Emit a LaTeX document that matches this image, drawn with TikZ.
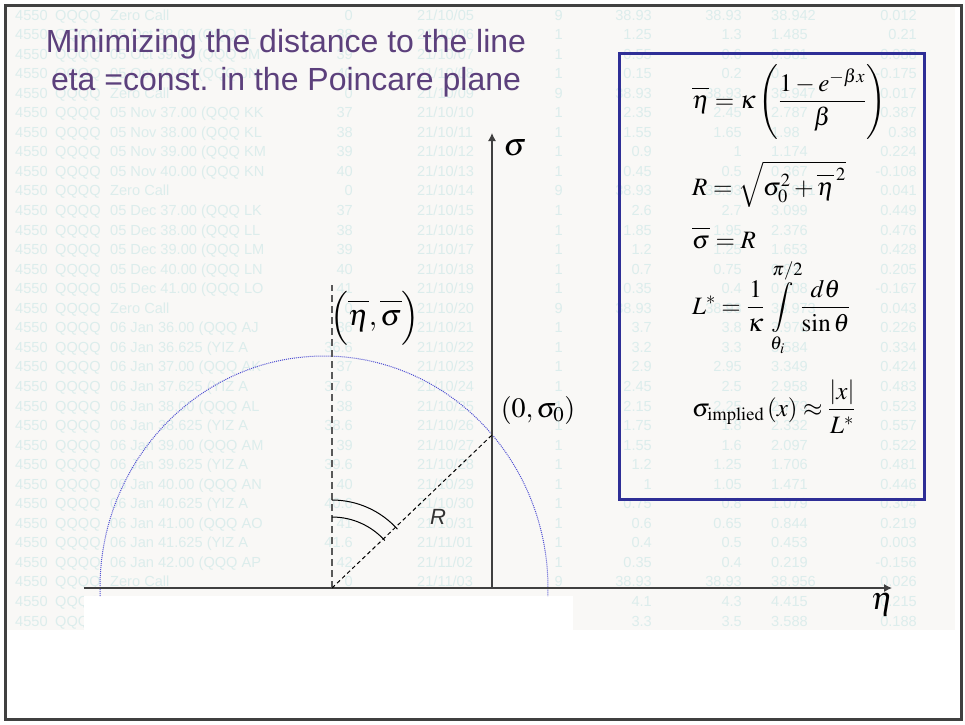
\documentclass[tikz,border=0pt]{standalone}
\usepackage{amsmath}
\usepackage{mathptmx}
\usepackage[no-math]{fontspec}
\setmainfont{Liberation Serif}
\newfontfamily\arialfont{Liberation Sans}
\usetikzlibrary{arrows.meta}

\definecolor{slidegray}{RGB}{249,248,246}
\definecolor{tabcol}{RGB}{220,237,236}
\definecolor{titlecol}{RGB}{92,64,124}
\definecolor{boxblue}{RGB}{46,46,150}
\definecolor{circblue}{RGB}{80,80,210}
\definecolor{axisgray}{RGB}{64,64,64}

\tikzset{
  tabtxt/.style={font=\arialfont\fontsize{14.6}{16}\selectfont, text=tabcol, inner sep=0pt},
  formula/.style={font=\fontsize{25}{30}\selectfont, inner sep=0pt, anchor=base west},
}
\newcommand{\obar}[1]{\overline{\vphantom{T}#1}}

\begin{document}
\begin{tikzpicture}[x=1pt,y=-1pt,>={Latex[length=8pt,width=8pt]}]
  \useasboundingbox (0,0) rectangle (965,724);
  % --- slide background
  \fill[white] (0,0) rectangle (965,724);
  \fill[slidegray] (7,7) rectangle (955,630);
  % --- faded spreadsheet behind the slide
  \foreach \ds/\kk/\mo/\dy/\nn/\va/\vb/\vc/\vd [count=\i] in {
    Zero Call/0/10/05/9/38.93/38.93/38.942/0.012,
    05 Oct 38.00 (QQQ JL/38/10/06/1/1.25/1.3/1.485/0.21,
    05 Oct 39.00 (QQQ JM/39/10/07/1/0.55/0.6/0.581/0.088,
    05 Oct 40.00 (QQQ JN/40/10/08/1/0.15/0.2/0/-0.175,
    Zero Call/0/10/09/9/38.93/38.93/38.947/0.017,
    05 Nov 37.00 (QQQ KK/37/10/10/1/2.35/2.45/2.787/0.387,
    05 Nov 38.00 (QQQ KL/38/10/11/1/1.55/1.65/1.98/0.38,
    05 Nov 39.00 (QQQ KM/39/10/12/1/0.9/1/1.174/0.224,
    05 Nov 40.00 (QQQ KN/40/10/13/1/0.45/0.5/0.367/-0.108,
    Zero Call/0/10/14/9/38.93/38.93/38.971/0.041,
    05 Dec 37.00 (QQQ LK/37/10/15/1/2.6/2.7/3.099/0.449,
    05 Dec 38.00 (QQQ LL/38/10/16/1/1.85/1.95/2.376/0.476,
    05 Dec 39.00 (QQQ LM/39/10/17/1/1.2/1.25/1.653/0.428,
    05 Dec 40.00 (QQQ LN/40/10/18/1/0.7/0.75/0.93/0.205,
    05 Dec 41.00 (QQQ LO/41/10/19/1/0.35/0.4/0.208/-0.167,
    Zero Call/0/10/20/9/38.93/38.93/38.973/0.043,
    06 Jan 36.00 (QQQ AJ/36/10/21/1/3.7/3.8/3.976/0.226,
    06 Jan 36.625 (YIZ A/36.6/10/22/1/3.2/3.3/3.584/0.334,
    06 Jan 37.00 (QQQ AK/37/10/23/1/2.9/2.95/3.349/0.424,
    06 Jan 37.625 (YIZ A/37.6/10/24/1/2.45/2.5/2.958/0.483,
    06 Jan 38.00 (QQQ AL/38/10/25/1/2.15/2.25/2.773/0.523,
    06 Jan 38.625 (YIZ A/38.6/10/26/1/1.75/1.8/2.332/0.557,
    06 Jan 39.00 (QQQ AM/39/10/27/1/1.55/1.6/2.097/0.522,
    06 Jan 39.625 (YIZ A/39.6/10/28/1/1.2/1.25/1.706/0.481,
    06 Jan 40.00 (QQQ AN/40/10/29/1/1/1.05/1.471/0.446,
    06 Jan 40.625 (YIZ A/40.6/10/30/1/0.75/0.8/1.079/0.304,
    06 Jan 41.00 (QQQ AO/41/10/31/1/0.6/0.65/0.844/0.219,
    06 Jan 41.625 (YIZ A/41.6/11/01/1/0.4/0.5/0.453/0.003,
    06 Jan 42.00 (QQQ AP/42/11/02/1/0.35/0.4/0.219/-0.156,
    Zero Call/0/11/03/9/38.93/38.93/38.956/0.026}{
    \pgfmathsetmacro\yy{20+(\i-1)*19.55}
    \node[tabtxt,anchor=base west] (id\i) at (15,\yy) {4550};
    \node[tabtxt,anchor=base west] (tk\i) at (55,\yy) {QQQQ};
    \node[tabtxt,anchor=base west] (ds\i) at (110,\yy) {\ds};
    \node[tabtxt,anchor=base east] (kk\i) at (353,\yy) {\kk};
    \node[tabtxt,anchor=base west] (dt\i) at (417,\yy) {21/\mo/\dy};
    \node[tabtxt,anchor=base east] (nn\i) at (563,\yy) {\nn};
    \node[tabtxt,anchor=base east] (va\i) at (652,\yy) {\va};
    \node[tabtxt,anchor=base east] (vb\i) at (742,\yy) {\vb};
    \node[tabtxt,anchor=base west] (vc\i) at (771,\yy) {\vc};
    \node[tabtxt,anchor=base east] (vd\i) at (917,\yy) {\vd};
  }
  \foreach \va/\vb/\vc/\vd [count=\i from 31] in {4.1/4.3/4.415/0.215, 3.3/3.5/3.588/0.188}{
    \pgfmathsetmacro\yy{20+(\i-1)*19.55}
    \node[tabtxt,anchor=base west] (id\i) at (15,\yy) {4550};
    \node[tabtxt,anchor=base west] (tk\i) at (55,\yy) {QQQQ};
    \node[tabtxt,anchor=base east] (va\i) at (652,\yy) {\va};
    \node[tabtxt,anchor=base east] (vb\i) at (742,\yy) {\vb};
    \node[tabtxt,anchor=base west] (vc\i) at (771,\yy) {\vc};
    \node[tabtxt,anchor=base east] (vd\i) at (917,\yy) {\vd};
  }
  \fill[white] (84,596) rectangle (573,630);
  % --- title
  \node[font=\arialfont\fontsize{32}{38}\selectfont, text=titlecol, anchor=base] (title1) at (286,52) {Minimizing the distance to the line};
  \node[font=\arialfont\fontsize{32}{38}\selectfont, text=titlecol, anchor=base] (title2) at (286,90.5) {eta =const. in the Poincare plane};
  % --- Poincare half plane
  \coordinate (O) at (332,588);
  \coordinate (C) at (324,588);
  \coordinate (P) at (492,435);
  \coordinate (M) at (332,285);
  \coordinate (xs) at (84,588);
  \coordinate (xe) at (892,588);
  \coordinate (ys) at (492,588);
  \coordinate (ye) at (492,133);
  \draw[circblue, line width=1pt, dash pattern=on 1pt off 1pt] (C) ++(178:224 and 232) arc[start angle=178, end angle=362, x radius=224, y radius=232];
  \draw[axisgray, line width=1.2pt, ->] (xs) -- (xe);
  \draw[axisgray, line width=1.2pt, ->] (ys) -- (ye);
  \draw[black!65, line width=1.5pt, dash pattern=on 7pt off 4pt] (O) -- (M);
  \draw[black, line width=1pt, dash pattern=on 4pt off 3pt] (O) -- (P);
  \draw[line width=1pt] (O) ++(270:88) arc[start angle=270, end angle=318, radius=88];
  \draw[line width=1pt] (O) ++(270:71) arc[start angle=270, end angle=318, radius=71];
  \node[font=\fontsize{32}{36}\selectfont, inner sep=0pt] (sig) at (515,148) {$\sigma$};
  \node[font=\fontsize{32}{36}\selectfont, inner sep=0pt] (eta) at (882,605) {$\eta$};
  \node[font=\fontsize{30}{36}\selectfont, inner sep=0pt] (mean) at (375,318) {$\Bigl(\obar{\eta},\obar{\sigma}\Bigr)$};
  \node[font=\fontsize{28}{34}\selectfont, inner sep=0pt] (pt) at (538,410) {$\left(0,\sigma_0\right)$};
  \node[font=\arialfont\itshape\fontsize{22}{26}\selectfont, text=black!80, inner sep=0pt] (rlab) at (438,517) {R};
  % --- formulas
  \draw[boxblue, line width=3pt] (619,53) rectangle (924,499);
  \node[formula] (f1) at (692,108) {$\obar{\eta}=\kappa\left(\dfrac{1-e^{-\beta x}}{\beta}\right)$};
  \node[formula] (f2) at (692,195) {$R=\sqrt{\sigma_0^2+\obar{\eta}^{\,2}}$};
  \node[formula] (f3) at (692,248) {$\obar{\sigma}=R$};
  \node[formula] (f4) at (692,314) {$L^{*}=\dfrac{1}{\kappa}\displaystyle\int\limits_{\theta_i}^{\pi/2}\dfrac{d\theta}{\sin\theta}$};
  \node[formula] (f5) at (692,416) {$\sigma_{\mathrm{implied}}\left(x\right)\approx\dfrac{\left|x\right|}{L^{*}}$};
  % --- slide frame
  \draw[axisgray, line width=3pt] (5.5,5.5) rectangle (961.5,719.5);
\end{tikzpicture}
\end{document}
